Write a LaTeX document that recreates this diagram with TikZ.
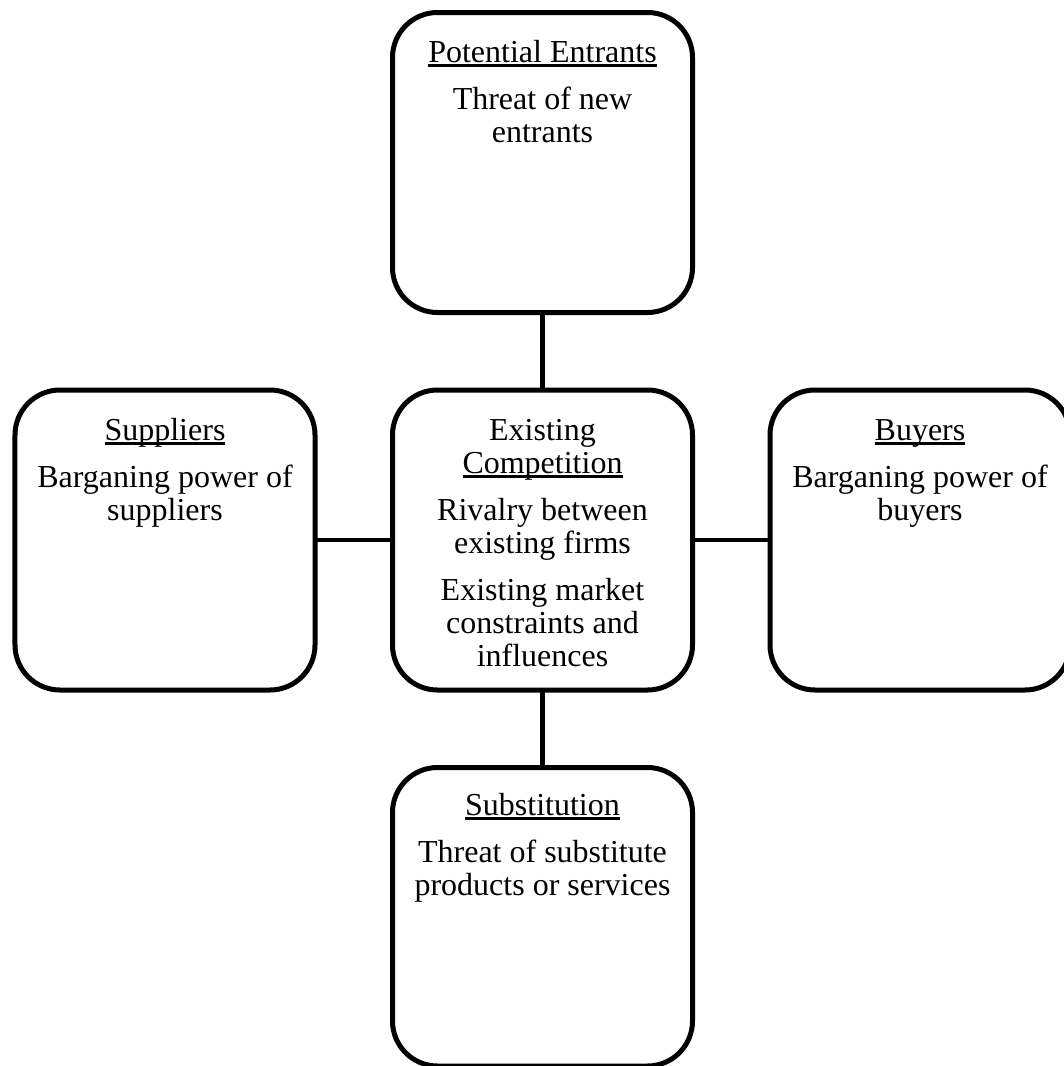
\documentclass[tikz,border=0pt]{standalone}
\usepackage{fontspec}
\setmainfont{Liberation Serif}
\newcommand\myul[1]{\leavevmode\setbox0\hbox{#1}\rlap{\rule[-4.5bp]{\wd0}{2.4bp}}\box0}
\newcommand\paragap{\\[14bp]}
\tikzset{
  boxnode/.style={draw, line width=5bp, rounded corners=45bp, minimum width=300bp, minimum height=300bp, outer sep=0pt, inner sep=0pt},
  txt/.style={anchor=base, inner sep=0pt, font=\fontsize{32bp}{33bp}\selectfont},
  conn/.style={line width=4.6bp}
}
\newcommand\boxtext[1]{\parbox[t]{300bp}{\centering #1}}
\begin{document}
\begin{tikzpicture}[x=1bp,y=-1bp]
\clip (0,0) rectangle (1064,1066);
\useasboundingbox (0,0) rectangle (1064,1066);
\fill[white] (0,0) rectangle (1064,1066);
\node[boxnode] (top) at (542.5,162.5) {};
\node[boxnode] (mid) at (542.5,540) {};
\node[boxnode] (left) at (165,540) {};
\node[boxnode] (right) at (920,540) {};
\node[boxnode, minimum height=298.5bp] (bot) at (542.5,916.75) {};
\draw[conn] (top.south) -- (mid.north);
\draw[conn] (mid.south) -- (bot.north);
\draw[conn] (left.east) -- (mid.west);
\draw[conn] (mid.east) -- (right.west);
\node[txt] (toptxt) at (542.5,62) {\boxtext{\myul{Potential Entrants}\paragap Threat of new\\ entrants}};
\node[txt] (midtxt) at (542.5,440) {\boxtext{Existing\\ \myul{Competition}\paragap Rivalry between\\ existing firms\paragap Existing market\\ constraints and\\ influences}};
\node[txt] (lefttxt) at (165,440) {\boxtext{\myul{Suppliers}\paragap Barganing power of\\ suppliers}};
\node[txt] (righttxt) at (920,440) {\boxtext{\myul{Buyers}\paragap Barganing power of\\ buyers}};
\node[txt] (bottxt) at (542.5,815) {\boxtext{\myul{Substitution}\paragap Threat of substitute\\ products or services}};
\end{tikzpicture}
\end{document}
